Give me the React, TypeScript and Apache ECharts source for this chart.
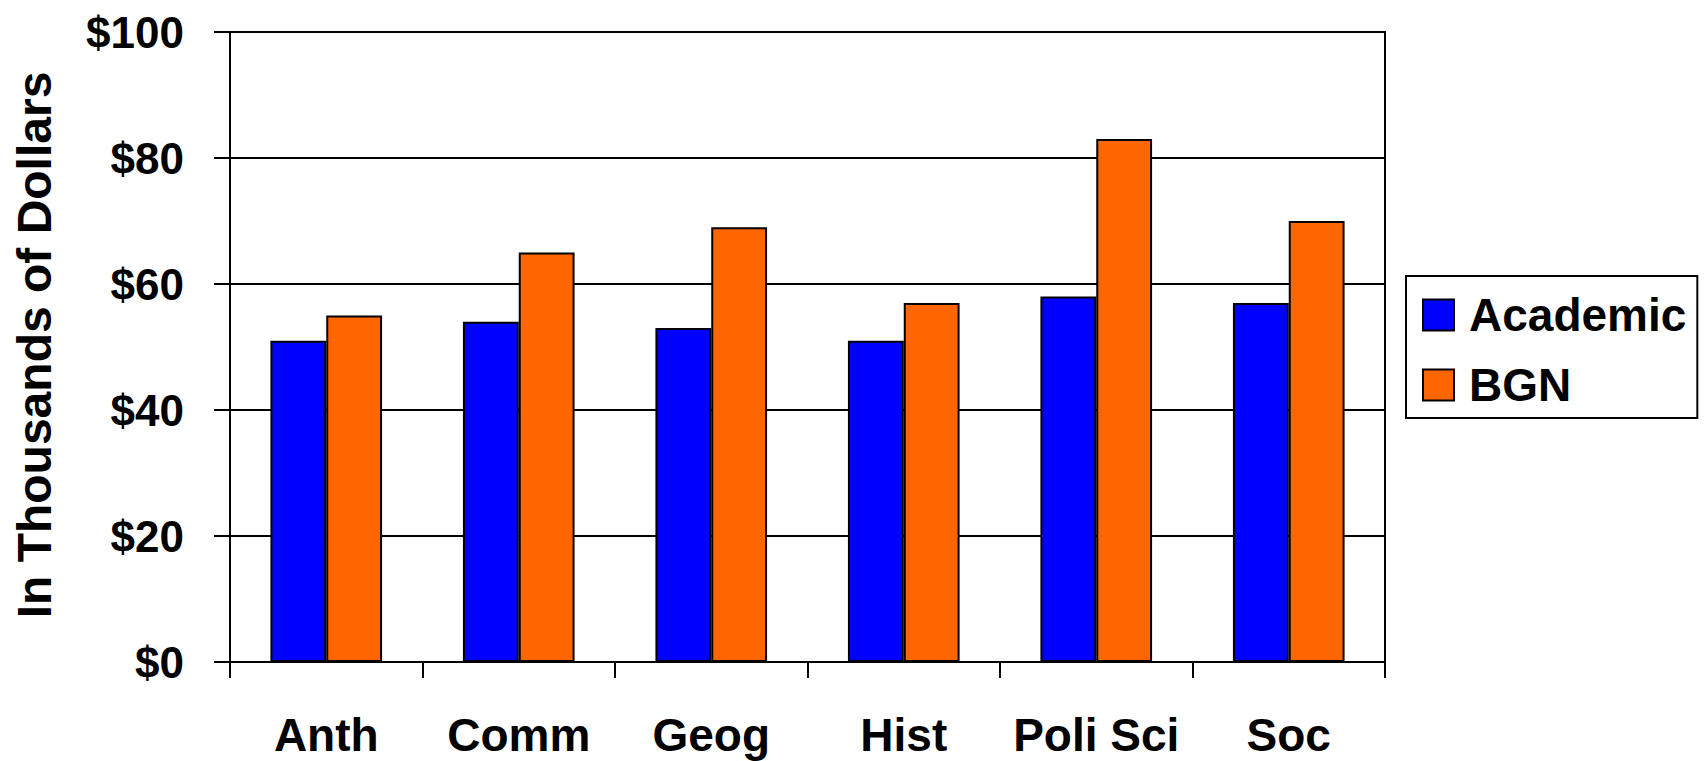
import React, { useEffect, useRef } from "react";
import * as echarts from "echarts";

const categories = ["Anth", "Comm", "Geog", "Hist", "Poli Sci", "Soc"];
const academic = [51, 54, 53, 51, 58, 57];
const bgn = [55, 65, 69, 57, 83, 70];
const seriesNames = ["Academic", "BGN"];
const yTitle = "In Thousands of Dollars";

const FONT = "'Liberation Sans', Arial, Helvetica, sans-serif";

export default function App() {
  const ref = useRef<HTMLDivElement>(null);
  useEffect(() => {
    document.body.style.margin = "0";
    const chart = echarts.init(ref.current!, null, { renderer: "svg" });
    chart.setOption({
      animation: false,
      backgroundColor: "#ffffff",
      textStyle: { fontFamily: FONT },
      grid: {
        left: 230,
        top: 32,
        right: 319,
        bottom: 99,
        show: true,
        borderColor: "#000",
        borderWidth: 2,
        backgroundColor: "transparent",
      },
      legend: {
        orient: "vertical",
        left: 1406,
        top: 276,
        padding: [16, 11, 10, 16],
        borderColor: "#000",
        borderWidth: 2,
        itemWidth: 31,
        itemHeight: 31,
        itemGap: 24,
        icon: "rect",
        itemStyle: { borderColor: "#000", borderWidth: 2 },
        textStyle: {
          fontFamily: FONT,
          fontSize: 46,
          fontWeight: "bold",
          color: "#000",
          padding: [0, 0, 0, 10],
          lineHeight: 46,
        },
        data: seriesNames,
      },
      xAxis: {
        type: "category",
        data: categories,
        axisLine: { show: true, lineStyle: { color: "#000", width: 2 } },
        axisTick: { show: true, interval: 0, length: 16, lineStyle: { color: "#000", width: 2 } },
        axisLabel: {
          interval: 0,
          margin: 50,
          fontFamily: FONT,
          fontSize: 46,
          fontWeight: "bold",
          color: "#000",
        },
        splitLine: { show: false },
      },
      yAxis: {
        type: "value",
        min: 0,
        max: 100,
        interval: 20,
        axisLine: { show: true, lineStyle: { color: "#000", width: 2 } },
        axisTick: { show: true, length: 16, lineStyle: { color: "#000", width: 2 } },
        axisLabel: {
          margin: 46,
          fontFamily: FONT,
          fontSize: 44,
          fontWeight: "bold",
          color: "#000",
          formatter: (v: number) => "$" + v,
        },
        splitLine: { show: true, lineStyle: { color: "#000", width: 2 } },
      },
      graphic: [
        {
          type: "text",
          x: 34,
          y: 345,
          rotation: Math.PI / 2,
          style: {
            text: yTitle,
            fontFamily: FONT,
            fontSize: 48,
            fontWeight: "bold",
            fill: "#000",
            textAlign: "center",
            textVerticalAlign: "middle",
          },
        },
      ],
      series: [
        {
          name: seriesNames[0],
          type: "bar",
          data: academic,
          barGap: "0%",
          barCategoryGap: "42%",
          itemStyle: { color: "#0000FF", borderColor: "#000", borderWidth: 2 },
        },
        {
          name: seriesNames[1],
          type: "bar",
          data: bgn,
          barGap: "0%",
          barCategoryGap: "42%",
          itemStyle: { color: "#FF6600", borderColor: "#000", borderWidth: 2 },
        },
      ],
    });
    return () => chart.dispose();
  }, []);
  return <div ref={ref} style={{ width: 1704, height: 761 }} />;
}
